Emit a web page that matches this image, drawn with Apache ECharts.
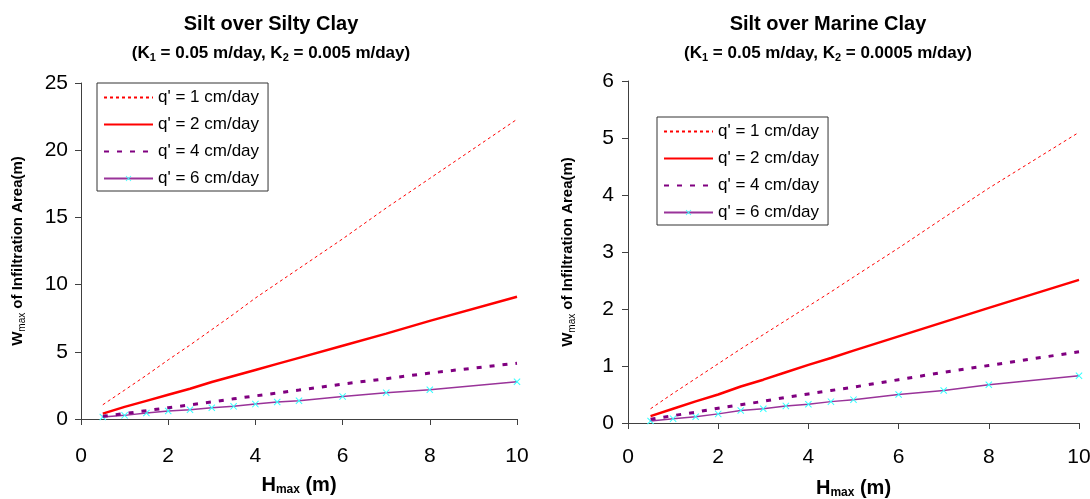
<!DOCTYPE html>
<html>
<head>
<meta charset="utf-8">
<script src="https://cdn.jsdelivr.net/npm/echarts@6/dist/echarts.min.js"></script>
<style>
  html, body { margin: 0; padding: 0; background: #fff; }
  #chart { width: 1090px; height: 499px; }
</style>
</head>
<body>
<div id="chart"></div>
<script>
// H_max (m) sample depths shared by every curve
const hMax = [0.5, 1, 1.5, 2, 2.5, 3, 3.5, 4, 4.5, 5, 6, 7, 8, 10];

const seriesNames = ["q' = 1 cm/day", "q' = 2 cm/day", "q' = 4 cm/day", "q' = 6 cm/day"];

// W_max (m), silt over silty clay
const siltyQ1 = [1.06, 2.15, 3.25, 4.4, 5.5, 6.65, 7.8, 9.0, 10.1, 11.2, 13.4, 15.7, 17.9, 22.3];
const siltyQ2 = [0.4, 0.9, 1.35, 1.8, 2.25, 2.75, 3.2, 3.65, 4.1, 4.55, 5.45, 6.35, 7.3, 9.1];
const siltyQ4 = [0.2, 0.4, 0.62, 0.84, 1.05, 1.27, 1.5, 1.72, 1.93, 2.15, 2.6, 3.0, 3.42, 4.15];
const siltyQ6 = [0.15, 0.27, 0.45, 0.59, 0.69, 0.84, 0.94, 1.11, 1.26, 1.36, 1.68, 1.96, 2.18, 2.77];

// W_max (m), silt over marine clay
const marineQ1 = [0.25, 0.52, 0.78, 1.04, 1.3, 1.55, 1.8, 2.05, 2.3, 2.56, 3.07, 3.6, 4.12, 5.1];
const marineQ2 = [0.12, 0.25, 0.38, 0.5, 0.64, 0.76, 0.89, 1.02, 1.14, 1.27, 1.52, 1.77, 2.02, 2.51];
const marineQ4 = [0.065, 0.13, 0.19, 0.26, 0.32, 0.38, 0.45, 0.51, 0.57, 0.63, 0.76, 0.89, 1.01, 1.25];
const marineQ6 = [0.035, 0.076, 0.11, 0.16, 0.22, 0.25, 0.3, 0.33, 0.375, 0.41, 0.5, 0.57, 0.67, 0.83];

const xTicks = { min: 0, max: 10, interval: 2 };
const leftYTicks = { min: 0, max: 25, interval: 5 };
const rightYTicks = { min: 0, max: 6, interval: 1 };

const FONT = "'Liberation Sans', Arial, sans-serif";
const AXIS_COLOR = '#404040';
const MARKER_COLOR = '#33ffff';

// filled "x" cross used as the point marker
const CROSS = 'path://M0,1L1,0L5,4L9,0L10,1L6,5L10,9L9,10L5,6L1,10L0,9L4,5Z';

const lineStyles = [
  { color: '#ff0000', width: 1, type: [3, 3] },
  { color: '#ff0000', width: 2.5, type: 'solid' },
  { color: '#800080', width: 3, type: [5, 8] },
  { color: '#993399', width: 1.5, type: 'solid' }
];

function pairs(ys) { return hMax.map((h, i) => [h, ys[i]]); }

function makeSeries(gridIdx, sets) {
  return sets.map((ys, k) => ({
    name: seriesNames[k],
    type: 'line',
    xAxisIndex: gridIdx,
    yAxisIndex: gridIdx,
    data: pairs(ys),
    symbol: k === 3 ? CROSS : 'none',
    symbolSize: 7,
    showSymbol: k === 3,
    itemStyle: { color: k === 3 ? MARKER_COLOR : lineStyles[k].color },
    lineStyle: Object.assign({}, lineStyles[k]),
    animation: false,
    z: 10 - k
  }));
}

const titleRich = {
  t: { fontFamily: FONT, fontSize: 20, fontWeight: 'bold', color: '#000' }
};
const subRich = {
  s: { fontFamily: FONT, fontSize: 17, fontWeight: 'bold', color: '#000', lineHeight: 20 },
  b: { fontFamily: FONT, fontSize: 11, fontWeight: 'bold', color: '#000', lineHeight: 12, verticalAlign: 'bottom' }
};

function title(x, main, k2) {
  return [
    {
      text: '{t|' + main + '}',
      left: x, top: 9, textAlign: 'center',
      textStyle: { rich: titleRich }
    },
    {
      text: '{s|(K}{b|1}{s| = 0.05 m/day, K}{b|2}{s| = ' + k2 + ' m/day)}',
      left: x, top: 38, textAlign: 'center',
      textStyle: { rich: subRich }
    }
  ];
}

const nameRichY = {
  w: { fontFamily: FONT, fontSize: 15, fontWeight: 'bold', color: '#000', lineHeight: 18 },
  m: { fontFamily: FONT, fontSize: 10, color: '#000', lineHeight: 11, verticalAlign: 'bottom' }
};
const nameRichX = {
  h: { fontFamily: FONT, fontSize: 20, fontWeight: 'bold', color: '#000', lineHeight: 22 },
  m: { fontFamily: FONT, fontSize: 12, fontWeight: 'bold', color: '#000', lineHeight: 12, verticalAlign: 'bottom' }
};

function xAxis(gridIdx, labelMargin, gap) {
  return Object.assign({
    type: 'value', gridIndex: gridIdx,
    name: '{h|H}{m|max}{h| (m)}',
    nameLocation: 'middle', nameGap: gap,
    nameTextStyle: { rich: nameRichX },
    axisLine: { show: true, onZero: false, lineStyle: { color: AXIS_COLOR, width: 1 } },
    axisTick: { show: true, inside: false, length: 6, lineStyle: { color: AXIS_COLOR } },
    axisLabel: { fontFamily: FONT, fontSize: 21, color: '#000', margin: labelMargin },
    splitLine: { show: false }
  }, xTicks);
}

function yAxis(gridIdx, ticks, gap, margin) {
  return Object.assign({
    type: 'value', gridIndex: gridIdx,
    name: '{w|W}{m|max}{w| of Infiltration Area(m)}',
    nameLocation: 'middle', nameGap: gap, nameRotate: 90,
    nameTextStyle: { rich: nameRichY },
    axisLine: { show: true, lineStyle: { color: AXIS_COLOR, width: 1 } },
    axisTick: { show: true, inside: false, length: 6, lineStyle: { color: AXIS_COLOR } },
    axisLabel: { fontFamily: FONT, fontSize: 21, color: '#000', margin: margin },
    splitLine: { show: false }
  }, ticks);
}

// legend entries: only the last curve carries a marker
const legendData = seriesNames.map((n, k) => k === 3
  ? { name: n }
  : { name: n, itemStyle: { color: 'rgba(0,0,0,0)', borderWidth: 0 } });

function legend(left, top) {
  return {
    left: left, top: top,
    orient: 'vertical',
    data: legendData,
    itemWidth: 49, itemHeight: 7, itemGap: 10,
    padding: [6, 9, 4, 6],
    borderColor: '#333', borderWidth: 1,
    backgroundColor: '#fff',
    selectedMode: false,
    textStyle: { fontFamily: FONT, fontSize: 17, color: '#000', lineHeight: 17 }
  };
}

const chart = echarts.init(document.getElementById('chart'), null, { renderer: 'canvas' });
chart.setOption({
  backgroundColor: '#fff',
  animation: false,
  title: [].concat(title(266, 'Silt over Silty Clay', '0.005'), title(823, 'Silt over Marine Clay', '0.0005')),
  grid: [
    { left: 81, top: 83, width: 436, height: 336, outerBoundsMode: 'none', containLabel: false },
    { left: 628, top: 81, width: 451, height: 342, outerBoundsMode: 'none', containLabel: false }
  ],
  legend: [legend(97, 83), legend(657, 117)],
  xAxis: [xAxis(0, 27, 55), xAxis(1, 24, 54)],
  yAxis: [yAxis(0, leftYTicks, 54, 13), yAxis(1, rightYTicks, 51, 14)],
  series: [].concat(
    makeSeries(0, [siltyQ1, siltyQ2, siltyQ4, siltyQ6]),
    makeSeries(1, [marineQ1, marineQ2, marineQ4, marineQ6])
  )
});
</script>
</body>
</html>
